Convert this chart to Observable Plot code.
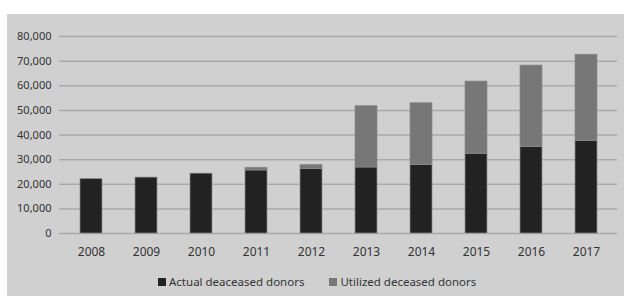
<!DOCTYPE html>
<html>
<head>
<meta charset="utf-8">
<script src="https://cdn.jsdelivr.net/npm/d3@7"></script>
<script src="https://cdn.jsdelivr.net/npm/@observablehq/plot@0.6"></script>
<style>
  html, body { margin: 0; padding: 0; background: #ffffff; }
  #panel { position: absolute; left: 7px; top: 14px; width: 617px; height: 282px; background: #d0d0d0; }
  #legend { position: absolute; left: 151px; top: 260px; display: flex; align-items: center;
            font-family: "Noto Sans", sans-serif; font-size: 11.5px; color: #333; }
  .item { display: flex; align-items: center; margin-right: 25px; }
  .sw { width: 8px; height: 8px; margin-right: 3px; }
</style>
</head>
<body>
<div id="panel"><div id="chart"></div><div id="legend"></div></div>
<script>
const years = ["2008","2009","2010","2011","2012","2013","2014","2015","2016","2017"];
const actual = [22100, 22700, 24300, 25600, 26200, 26800, 27800, 32400, 35100, 37500];
const utilized = [0, 0, 0, 1100, 1600, 24900, 25100, 29300, 33100, 35100];
const seriesNames = ["Actual deaceased donors", "Utilized deceased donors"];
const seriesColors = ["#222222", "#777777"];
const yTicks = [0, 10000, 20000, 30000, 40000, 50000, 60000, 70000, 80000];

const data = [];
years.forEach((y, i) => {
  data.push({year: y, series: seriesNames[0], value: actual[i]});
  data.push({year: y, series: seriesNames[1], value: utilized[i]});
});

const chart = Plot.plot({
  width: 617,
  height: 250,
  marginLeft: 52,
  marginRight: 7,
  marginTop: 22,
  marginBottom: 31,
  style: {background: "transparent", fontFamily: "Noto Sans, sans-serif", fontSize: "11px", color: "#333"},
  x: {domain: years, paddingInner: 0.6, paddingOuter: 0.3, label: null},
  y: {domain: [0, 80000], label: null},
  color: {domain: seriesNames, range: seriesColors},
  marks: [
    Plot.ruleY(yTicks, {stroke: "#a9a9a9", strokeWidth: 1.5}),
    Plot.barY(data, Plot.stackY({x: "year", y: "value", fill: "series", order: seriesNames, stroke: "#8a8a8a", strokeWidth: 0.7})),
    Plot.axisX({tickSize: 0, tickPadding: 14, fontSize: 12, fill: "#333"}),
    Plot.axisY({ticks: yTicks, tickSize: 0, tickPadding: 8, tickFormat: d3.format(","), fontSize: 11, fill: "#333"})
  ]
});
document.getElementById("chart").appendChild(chart);

const legend = document.getElementById("legend");
seriesNames.forEach((n, i) => {
  const it = document.createElement("div");
  it.className = "item";
  const sw = document.createElement("div");
  sw.className = "sw";
  sw.style.background = seriesColors[i];
  const tx = document.createElement("span");
  tx.textContent = n;
  it.appendChild(sw); it.appendChild(tx);
  legend.appendChild(it);
});
</script>
</body>
</html>
